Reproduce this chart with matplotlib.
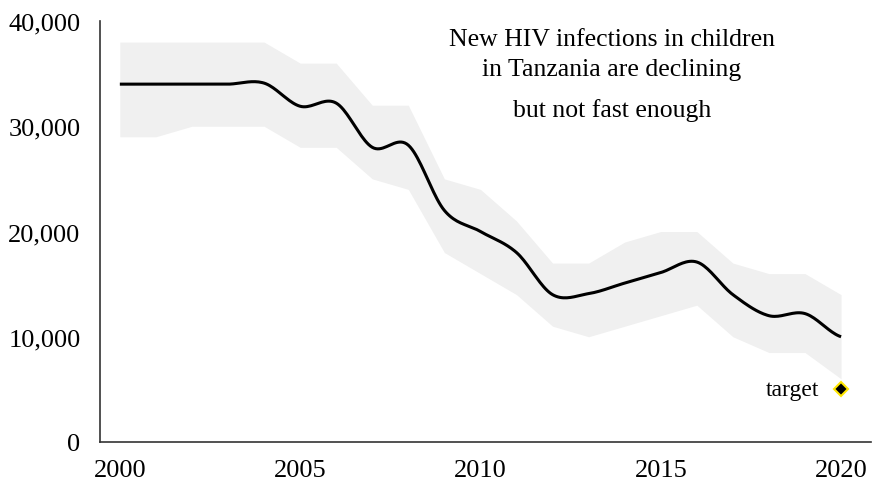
import numpy as np
import matplotlib.pyplot as plt
from matplotlib.ticker import FuncFormatter

plt.rcParams['font.family'] = ['Liberation Serif', 'DejaVu Serif']

years = list(range(2000, 2021))
estimate = [34000, 34000, 34000, 34000, 34100, 31900, 32200, 28000, 28200, 22000,
            20000, 18000, 14000, 14100, 15100, 16100, 17100, 14000, 12000, 12200, 10000]
upper = [38000, 38000, 38000, 38000, 38000, 36000, 36000, 32000, 32000, 25000,
         24000, 21000, 17000, 17000, 19000, 20000, 20000, 17000, 16000, 16000, 14000]
lower = [29000, 29000, 30000, 30000, 30000, 28000, 28000, 25000, 24000, 18000,
         16000, 14000, 11000, 10000, 11000, 12000, 13000, 10000, 8500, 8500, 6000]
target_year = 2020
target_value = 5000


def smooth(x, y, steps=20):
    # Catmull-Rom curve through every point, like a spreadsheet "smoothed line"
    x = np.asarray(x, float)
    y = np.asarray(y, float)
    px = np.concatenate([[2 * x[0] - x[1]], x, [2 * x[-1] - x[-2]]])
    py = np.concatenate([[y[0]], y, [y[-1]]])
    xs, ys = [], []
    t = np.linspace(0, 1, steps, endpoint=False)
    for i in range(1, len(px) - 2):
        for p, out in ((px, xs), (py, ys)):
            p0, p1, p2, p3 = p[i - 1], p[i], p[i + 1], p[i + 2]
            out.extend(0.5 * (2 * p1 + (-p0 + p2) * t
                              + (2 * p0 - 5 * p1 + 4 * p2 - p3) * t ** 2
                              + (-p0 + 3 * p1 - 3 * p2 + p3) * t ** 3))
    xs.append(x[-1])
    ys.append(y[-1])
    return np.array(xs), np.array(ys)


fig = plt.figure(figsize=(8.72, 4.85), dpi=100)
ax = fig.add_axes([100 / 872, 42 / 485, 771 / 872, 421 / 485])

ax.fill_between(years, lower, upper, color='#f0f0f0', linewidth=0)
sx, sy = smooth(years, estimate)
ax.plot(sx, sy, color='black', linewidth=2.2, solid_capstyle='butt')
ax.plot([target_year], [target_value], marker='D', markersize=7.5,
        markerfacecolor='black', markeredgecolor='#ffe600', markeredgewidth=1.5)
ax.text(target_year - 0.6, target_value, 'target', ha='right', va='center', fontsize=17)

ax.text(2013.65, 38300, 'New HIV infections in children', ha='center', va='center', fontsize=18.5)
ax.text(2013.65, 35400, 'in Tanzania are declining', ha='center', va='center', fontsize=18.5)
ax.text(2013.65, 31600, 'but not fast enough', ha='center', va='center', fontsize=18.5)

ax.set_xlim(1999.45, 2020.83)
ax.set_ylim(0, 40000)
ax.set_xticks([2000, 2005, 2010, 2015, 2020])
ax.set_yticks([0, 10000, 20000, 30000, 40000])
ax.yaxis.set_major_formatter(FuncFormatter(lambda v, p: f'{int(v):,}'))
ax.tick_params(length=0, labelsize=19, pad=14)
ax.tick_params(axis='x', pad=12)
for side in ('top', 'right'):
    ax.spines[side].set_visible(False)
for side in ('left', 'bottom'):
    ax.spines[side].set_color('#333333')
    ax.spines[side].set_linewidth(1.2)

fig.savefig('out.png', dpi=100)
